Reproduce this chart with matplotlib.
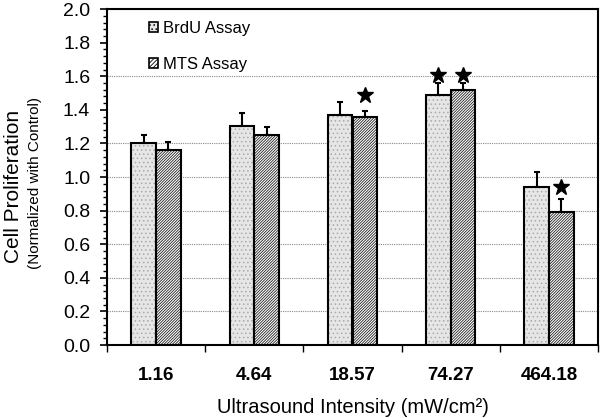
import matplotlib
matplotlib.use("Agg")
import matplotlib.pyplot as plt
import numpy as np
from matplotlib.ticker import MultipleLocator, FixedLocator, NullFormatter, FormatStrFormatter
from matplotlib.patches import Patch

plt.rcParams['font.family'] = ['Liberation Sans', 'DejaVu Sans']
plt.rcParams['hatch.linewidth'] = 0.6

categories = ["1.16", "4.64", "18.57", "74.27", "464.18"]
brdu = [1.20, 1.305, 1.367, 1.49, 0.938]
brdu_err = [0.05, 0.075, 0.083, 0.07, 0.092]
mts = [1.159, 1.25, 1.36, 1.52, 0.79]
mts_err = [0.051, 0.05, 0.035, 0.04, 0.077]
# significance stars: (group index, series, height)
star_groups = [2, 3, 3, 4]
star_series = ["mts", "brdu", "mts", "mts"]
star_y = [1.49, 1.61, 1.61, 0.94]

fig = plt.figure(figsize=(6.0, 4.18), dpi=100)
ax = fig.add_axes([0.178, 0.1746, 0.819, 0.8035])

x = np.arange(len(categories))
w = 0.25
xb = x - w / 2
xm = x + w / 2

# BrdU: light gray with dotted pattern
ax.bar(xb, brdu, w, color='#e6e6e6', edgecolor='#aaaaaa', hatch='....', linewidth=0, zorder=2)
ax.bar(xb, brdu, w, fill=False, edgecolor='black', linewidth=1.5, zorder=3)
# MTS: white with dense diagonal hatch
ax.bar(xm, mts, w, color='white', edgecolor='#202020', hatch='/' * 12, linewidth=0, zorder=2)
ax.bar(xm, mts, w, fill=False, edgecolor='black', linewidth=1.5, zorder=3)

ax.errorbar(xb, brdu, yerr=[np.zeros(len(brdu)), brdu_err], fmt='none', ecolor='black',
            elinewidth=1.5, capsize=2.5, capthick=1.5, zorder=4)
ax.errorbar(xm, mts, yerr=[np.zeros(len(mts)), mts_err], fmt='none', ecolor='black',
            elinewidth=1.5, capsize=2.5, capthick=1.5, zorder=4)

sx = [xm[g] if s == "mts" else xb[g] for g, s in zip(star_groups, star_series)]
ax.plot(sx, star_y, linestyle='none', marker='*', markersize=12, color='black', zorder=5)

ax.set_xlim(-0.5, len(categories) - 0.5)
ax.set_ylim(0, 2.0)
ax.yaxis.set_major_locator(MultipleLocator(0.2))
ax.yaxis.set_minor_locator(MultipleLocator(0.04))
ax.yaxis.set_major_formatter(FormatStrFormatter('%.1f'))
ax.tick_params(axis='y', which='major', length=5, width=1.2, labelsize=14, pad=7)
ax.tick_params(axis='y', which='minor', length=3, width=1.0)

ax.set_xticks(x)
ax.set_xticklabels(categories, fontsize=13.5, fontweight='bold')
ax.xaxis.set_minor_locator(FixedLocator(np.arange(-0.5, len(categories) + 0.5, 1.0)))
ax.xaxis.set_minor_formatter(NullFormatter())
ax.tick_params(axis='x', which='major', length=0, pad=16)
ax.tick_params(axis='x', which='minor', length=5, width=1.0)

ax.yaxis.grid(True, which='major', color='#888888', linestyle=(0, (1, 1)), linewidth=0.8, zorder=0)
ax.set_axisbelow(True)
for gl, v in zip(ax.yaxis.get_gridlines(), ax.get_yticks()):
    if abs(v - 1.4) < 1e-6 or abs(v - 1.8) < 1e-6:
        gl.set_visible(False)

for s in ax.spines.values():
    s.set_linewidth(1.5)

ax.set_xlabel("Ultrasound Intensity (mW/cm²)", fontsize=14.5, labelpad=10)
fig.text(0.022, 0.555, "Cell Proliferation", rotation=90, fontsize=15, ha='center', va='center')
fig.text(0.058, 0.562, "(Normalized with Control)", rotation=90, fontsize=11, ha='center', va='center')

handles = [Patch(facecolor='#e6e6e6', edgecolor='black', hatch='....', linewidth=1.2),
           Patch(facecolor='white', edgecolor='black', hatch='/' * 8, linewidth=1.2)]
ax.legend(handles, ["BrdU Assay", "MTS Assay"], loc='upper left', bbox_to_anchor=(0.055, 1.01),
          frameon=False, fontsize=12, handlelength=0.55, handleheight=0.55, handletextpad=0.3,
          labelspacing=1.25)

fig.savefig("out.png", dpi=100)
